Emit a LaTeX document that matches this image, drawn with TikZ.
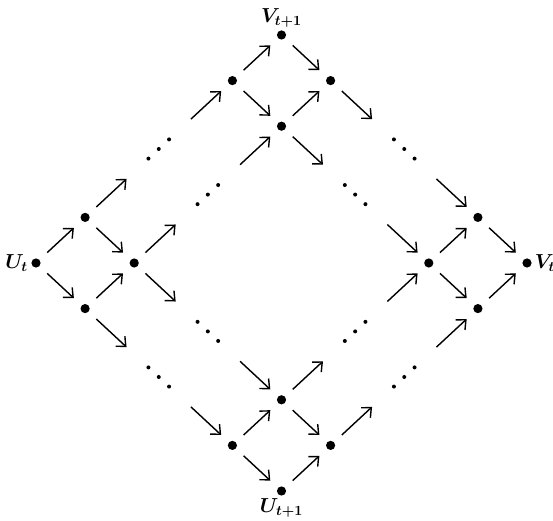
\documentclass[tikz,border=0pt]{standalone}
\usepackage{amsmath}
\usetikzlibrary{positioning, arrows.meta, calc}

\begin{document}
\begin{tikzpicture}[
        x=1.2275cm, y=1.14cm,
        pt/.style={circle, fill, inner sep=0pt, minimum size=2.3mm},
        lab/.style={font=\Large\boldmath, inner sep=2pt},
        edge/.style={-{Straight Barb[length=1.9mm, width=3.4mm]}, line width=1pt, shorten <=2.6mm, shorten >=2.6mm},
      ]
        \useasboundingbox (-0.9cm,-6.45cm) rectangle (12.925cm,6.575cm);
        % nodes of the four corners
        \node[pt] (l0) at (0,0) {};
        \node[pt] (l1u) at (1,1) {};
        \node[pt] (l1d) at (1,-1) {};
        \node[pt] (l2) at (2,0) {};
        \node[pt] (t4) at (4,4) {};
        \node[pt] (t5u) at (5,5) {};
        \node[pt] (t5d) at (5,3) {};
        \node[pt] (t6) at (6,4) {};
        \node[pt] (r8) at (8,0) {};
        \node[pt] (r9u) at (9,1) {};
        \node[pt] (r9d) at (9,-1) {};
        \node[pt] (r10) at (10,0) {};
        \node[pt] (b4) at (4,-4) {};
        \node[pt] (b5u) at (5,-3) {};
        \node[pt] (b5d) at (5,-5) {};
        \node[pt] (b6) at (6,-4) {};
        \node[lab, left=0pt of l0] (ul) {$U_t$};
        \node[lab, above=0pt of t5u] (vtl) {$V_{t+1}$};
        \node[lab, right=0pt of r10] (vl) {$V_t$};
        \node[lab, below=0pt of b5d] (utl) {$U_{t+1}$};
        % free lattice points
        \coordinate (f22) at (2,2);
        \coordinate (f33) at (3,3);
        \coordinate (f31) at (3,1);
        \coordinate (f42) at (4,2);
        \coordinate (f3m1) at (3,-1);
        \coordinate (f4m2) at (4,-2);
        \coordinate (f2m2) at (2,-2);
        \coordinate (f3m3) at (3,-3);
        \coordinate (f62) at (6,2);
        \coordinate (f71) at (7,1);
        \coordinate (f73) at (7,3);
        \coordinate (f82) at (8,2);
        \coordinate (f6m2) at (6,-2);
        \coordinate (f7m1) at (7,-1);
        \coordinate (f7m3) at (7,-3);
        \coordinate (f8m2) at (8,-2);
        % arrows
        \foreach \a/\b in {l0/l1u, l0/l1d, l1u/f22, l1u/l2, l1d/l2, l1d/f2m2, l2/f31, l2/f3m1,
            f33/t4, f42/t5d, t4/t5u, t4/t5d, t5u/t6, t5d/t6, t5d/f62, t6/f73,
            f82/r9u, f71/r8, f7m1/r8, f8m2/r9d, r8/r9u, r8/r9d, r9u/r10, r9d/r10,
            f3m3/b4, f4m2/b5u, b4/b5u, b4/b5d, b5u/b6, b5d/b6, b5u/f6m2, b6/f7m3}
          \draw[edge] (\a) -- (\b);
        % dotted gaps
        \foreach \a/\b in {f22/f33, f31/f42, f3m1/f4m2, f2m2/f3m3, f62/f71, f73/f82, f6m2/f7m1, f7m3/f8m2}
          \foreach \s in {0.29, 0.5, 0.71}
            \fill ($(\a)!\s!(\b)$) circle (0.5mm);
      \end{tikzpicture}
\end{document}
